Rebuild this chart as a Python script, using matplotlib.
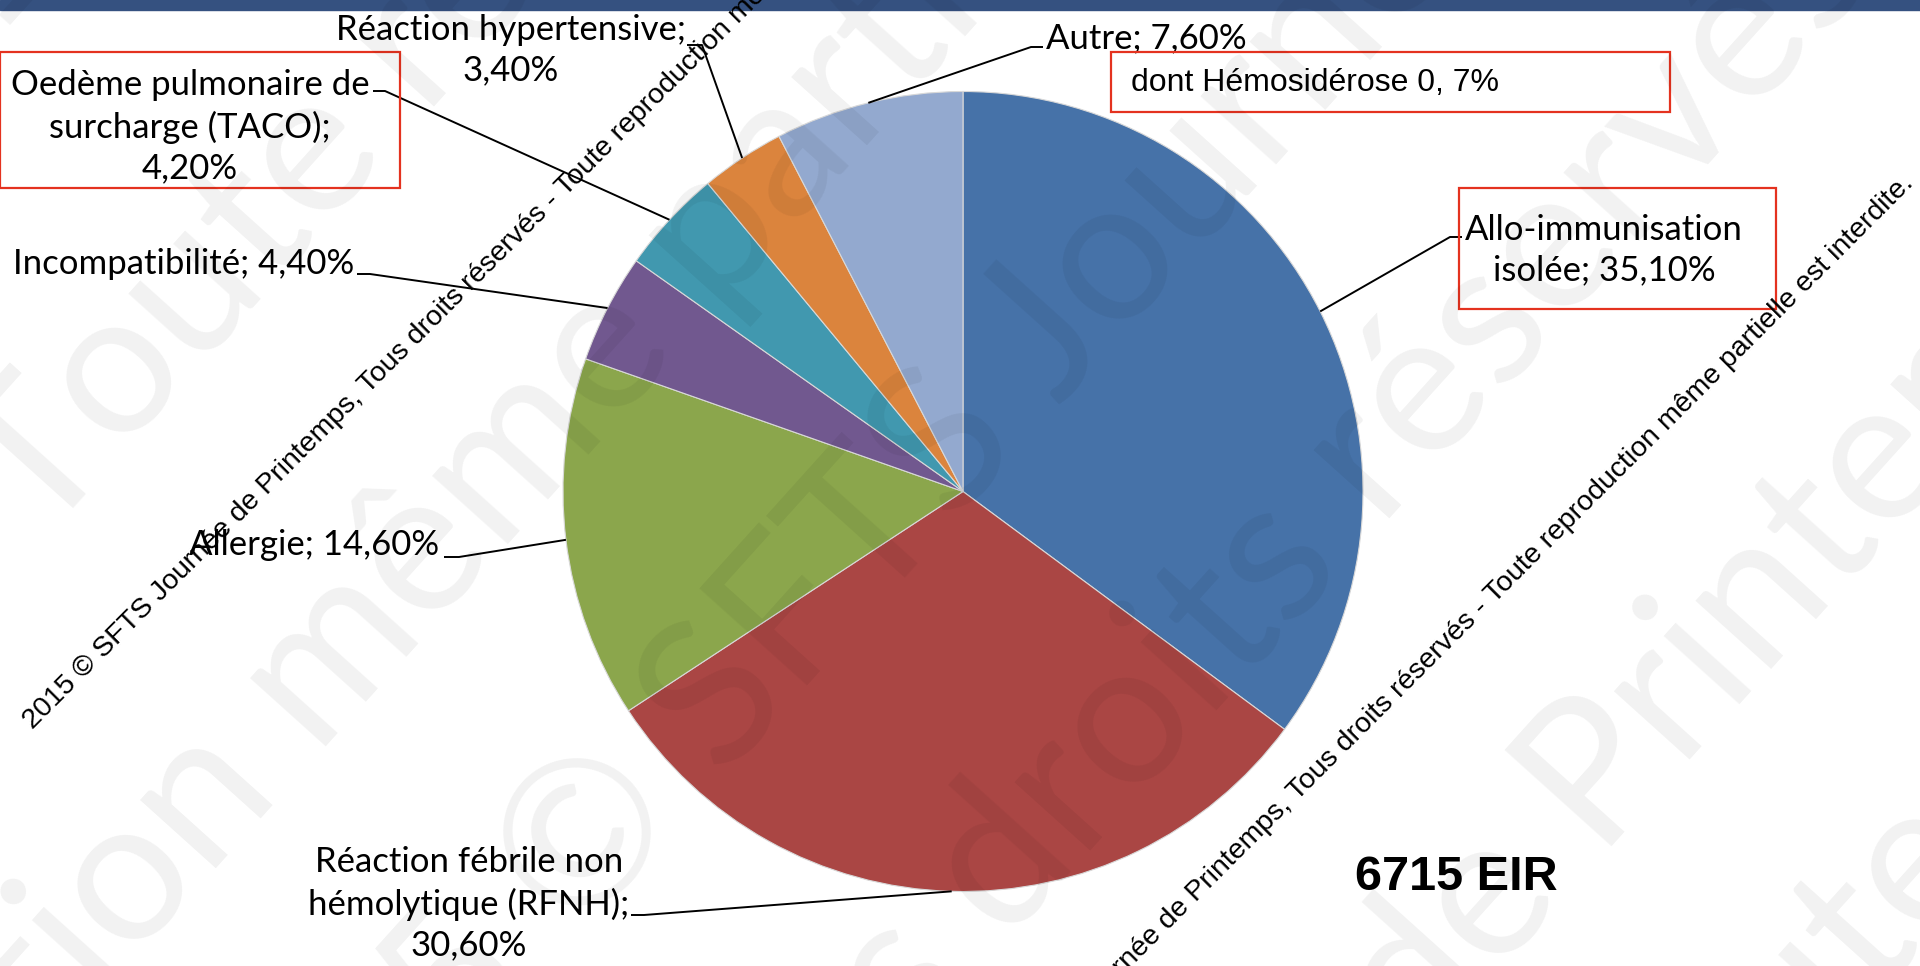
import numpy as np
import matplotlib.pyplot as plt
from matplotlib import font_manager
from matplotlib.patches import Rectangle

W, H = 1920, 966

categories = [
    "Allo-immunisation\nisolée",
    "Réaction fébrile non\nhémolytique (RFNH)",
    "Allergie",
    "Incompatibilité",
    "Oedème pulmonaire de\nsurcharge (TACO)",
    "Réaction hypertensive",
    "Autre",
]
percent = [35.1, 30.6, 14.6, 4.4, 4.2, 3.4, 7.6]
pct_sep = ["; ", ";\n", "; ", "; ", ";\n", ";\n", "; "]
colors = ["#4672A8", "#AA4644", "#8BA64C", "#71588F", "#4198AF", "#DB843D", "#93A9CF"]
boxed = [True, False, False, False, True, False, False]

total_eir = "6715 EIR"
note_text = "dont Hémosidérose 0, 7%"

# label layout in pixels (y downwards): text anchor, alignment, leader elbow, tick end
label_pos = [
    dict(xy=(1604, 250), ha="center", elbow=(1450, 237), tick=(1462, 237)),
    dict(xy=(469, 904), ha="center", elbow=(644, 915), tick=(631, 915)),
    dict(xy=(439, 545), ha="right", elbow=(459, 557), tick=(444, 557)),
    dict(xy=(354, 264), ha="right", elbow=(370, 274), tick=(357, 274)),
    dict(xy=(190, 127), ha="center", elbow=(385, 91), tick=(373, 91)),
    dict(xy=(511, 50), ha="center", elbow=(702, 45), tick=(687, 45)),
    dict(xy=(1046, 38), ha="left", elbow=(1031, 47), tick=(1043, 47)),
]
box_rects = {0: (1459, 188, 1776, 309), 4: (0, 52, 400, 188)}

PIE_C = (963, 491.5)
PIE_R = 400

WM = ("2015 © SFTS Journée de Printemps, Tous droits réservés - "
      "Toute reproduction même partielle est interdite.")


def has_font(name):
    try:
        font_manager.findfont(font_manager.FontProperties(family=name),
                              fallback_to_default=False)
        return True
    except ValueError:
        return False


LABEL_FONT = ["Lato", "DejaVu Sans"]
NARROW = has_font("Liberation Sans Narrow")

fig = plt.figure(figsize=(19.2, 9.66), dpi=100)
ax = fig.add_axes([0, 0, 1, 1])

# title bar strip at the very top
ax.add_patch(Rectangle((0, 0), W, 10, color="#355180", zorder=1))

# pie: y axis is inverted, so counterclock=True runs clockwise on screen
wedges, _ = ax.pie(percent, colors=colors, center=PIE_C, radius=PIE_R,
                   startangle=270, counterclock=True,
                   wedgeprops=dict(edgecolor="#d8d8d8", linewidth=0.8))
ax.set_xlim(0, W)
ax.set_ylim(H, 0)
ax.set_aspect("equal")
ax.axis("off")

for i, w in enumerate(wedges):
    lp = label_pos[i]
    mid = np.deg2rad((w.theta1 + w.theta2) / 2)
    px = w.center[0] + w.r * np.cos(mid)
    py = w.center[1] + w.r * np.sin(mid)
    ax.plot([px, lp["elbow"][0], lp["tick"][0]],
            [py, lp["elbow"][1], lp["tick"][1]],
            color="black", lw=1.4, solid_capstyle="butt", zorder=4)
    pct = f"{percent[i]:.2f}".replace(".", ",") + "%"
    txt = categories[i] + pct_sep[i] + pct
    ax.text(lp["xy"][0], lp["xy"][1], txt, ha=lp["ha"], va="center",
            multialignment="center", fontsize=25, linespacing=1.34,
            family=LABEL_FONT, color="black", zorder=5)
    if boxed[i]:
        x0, y0, x1, y1 = box_rects[i]
        ax.add_patch(Rectangle((x0, y0), x1 - x0, y1 - y0, fill=False,
                               edgecolor="#E4321F", lw=1.6, zorder=5))

# note box under "Autre"
ax.add_patch(Rectangle((1111, 52), 559, 60, fill=False,
                       edgecolor="#E4321F", lw=1.6, zorder=5))
if NARROW:
    ax.text(1131, 83, note_text, ha="left", va="center", fontsize=28,
            family="Liberation Sans Narrow", zorder=5)
else:
    ax.text(1131, 83, note_text, ha="left", va="center", fontsize=23,
            family="Liberation Sans", zorder=5)

ax.text(1456, 878, total_eir, ha="center", va="center", fontsize=35,
        fontweight="bold", family="Liberation Sans", zorder=5)

# copyright line, twice, at 45 degrees
ax.text(33, 730, WM, rotation=45, rotation_mode="anchor", ha="left",
        va="baseline", fontsize=20.5, family="Liberation Sans", zorder=6)
ax.text(1914, 184, WM, rotation=45, rotation_mode="anchor", ha="right",
        va="baseline", fontsize=20.5, family="Liberation Sans", zorder=6)

# large faint background watermark
stream = (WM + " ") * 4
mid_start = len(WM) + 1
big_lines = [
    ("s - Toute", (-51, 173)),
    ("Toute", (40, 545)),
    ("même", (317, 757)),
    ("© SFTS", (576, 943)),
    ("droits", (1006, 945)),
    ("Printemps", (1600, 860)),
    ("Toute", (1645, 1256)),
]
for word, (bx, by) in big_lines:
    k = stream.index(word, mid_start)
    before, after = stream[k - 70:k], stream[k:k + 80]
    kw = dict(rotation=48, rotation_mode="anchor", va="baseline",
              fontsize=145, family=LABEL_FONT, color="black", alpha=0.055,
              zorder=7)
    ax.text(bx, by, before, ha="right", **kw)
    ax.text(bx, by, after, ha="left", **kw)

fig.savefig("out.png", dpi=100)
